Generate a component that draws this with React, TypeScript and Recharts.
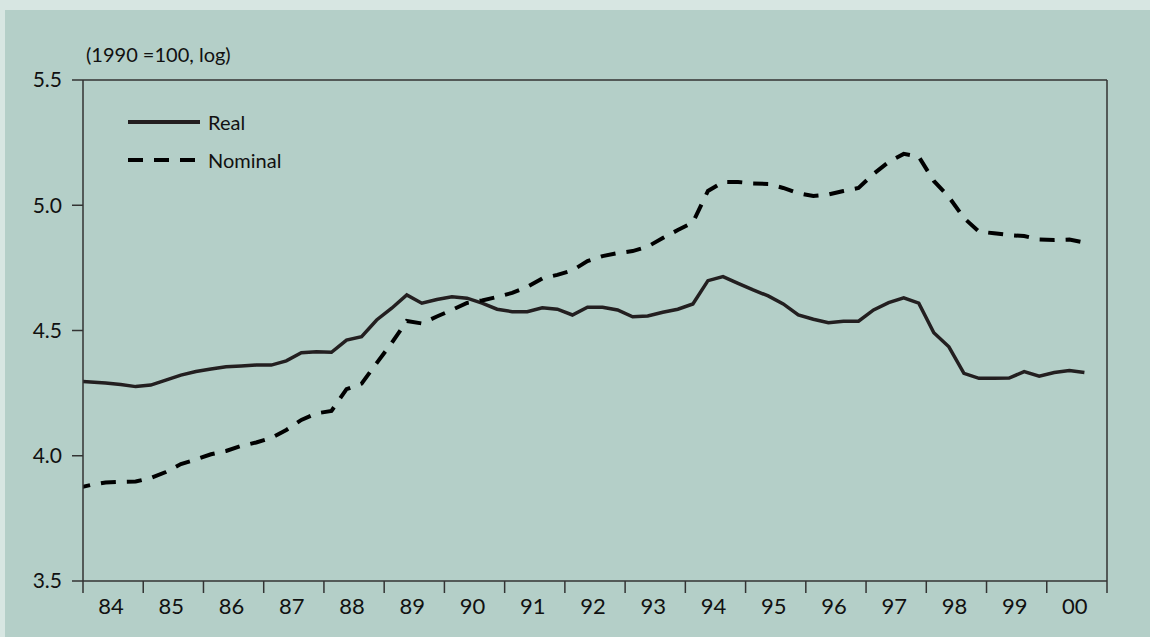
import React from "react";
import { Legend, Line, LineChart, ReferenceLine, XAxis, YAxis } from "recharts";

// quarterly observations, plotted at mid-quarter; first value is 1983 Q4 (clipped at the axis)
const FIRST_QUARTER = 1983.75;

const REAL = [
  4.298, 4.294, 4.29, 4.284, 4.276, 4.282, 4.302, 4.322, 4.336, 4.346, 4.355,
  4.358, 4.362, 4.362, 4.379, 4.411, 4.415, 4.413, 4.462, 4.475, 4.542, 4.589,
  4.642, 4.609, 4.624, 4.635, 4.629, 4.609, 4.585, 4.575, 4.575, 4.591, 4.585,
  4.562, 4.593, 4.593, 4.582, 4.555, 4.558, 4.573, 4.585, 4.606, 4.699, 4.715,
  4.688, 4.662, 4.638, 4.606, 4.562, 4.545, 4.531, 4.537, 4.537, 4.582, 4.611,
  4.63, 4.609, 4.491, 4.435, 4.329, 4.309, 4.309, 4.31, 4.336, 4.318, 4.332,
  4.34, 4.332,
];

const NOMINAL = [
  3.869, 3.883, 3.893, 3.896, 3.897, 3.911, 3.935, 3.967, 3.985, 4.006, 4.019,
  4.039, 4.053, 4.071, 4.103, 4.143, 4.169, 4.179, 4.266, 4.288, 4.37, 4.45,
  4.538, 4.528, 4.556, 4.582, 4.61, 4.62, 4.634, 4.65, 4.674, 4.708, 4.722,
  4.74, 4.777, 4.797, 4.809, 4.817, 4.835, 4.869, 4.901, 4.931, 5.057, 5.093,
  5.093, 5.087, 5.085, 5.069, 5.048, 5.037, 5.043, 5.057, 5.069, 5.125, 5.173,
  5.205, 5.194, 5.097, 5.033, 4.949, 4.895, 4.888, 4.881, 4.877, 4.863, 4.861,
  4.863, 4.851,
];

// year boundaries (tick marks) and year centres (labels)
const YEAR_TICKS = [
  1984, 1985, 1986, 1987, 1988, 1989, 1990, 1991, 1992, 1993, 1994, 1995, 1996,
  1997, 1998, 1999, 2000, 2001,
];
const LABEL_TICKS = [
  1984.5, 1985.5, 1986.5, 1987.5, 1988.5, 1989.5, 1990.5, 1991.5, 1992.5,
  1993.5, 1994.5, 1995.5, 1996.5, 1997.5, 1998.5, 1999.5, 2000.5,
];
const YEAR_LABELS = [
  "84", "85", "86", "87", "88", "89", "90", "91", "92", "93", "94", "95", "96",
  "97", "98", "99", "00",
];
const Y_TICKS = [3.5, 4.0, 4.5, 5.0, 5.5];
const LEGEND_ORDER = ["Real", "Nominal"];

const data = REAL.map((real, i) => ({
  t: FIRST_QUARTER + 0.125 + i * 0.25,
  real,
  nominal: NOMINAL[i],
}));

const FONT = "Lato, 'Open Sans', sans-serif";
const AXIS = "#333333";
const INK = "#231f20";

function YearTick(props: any) {
  const { x, y, payload } = props;
  const v = payload.value as number;
  if (Number.isInteger(v)) {
    return <line x1={x} y1={y} x2={x} y2={y + 12} stroke={AXIS} strokeWidth={1.5} />;
  }
  const idx = LABEL_TICKS.indexOf(v);
  return (
    <text
      x={x - 2}
      y={y + 17}
      dy="0.71em"
      textAnchor="middle"
      fontSize={22}
      fontFamily={FONT}
      fill="#111">
      {YEAR_LABELS[idx]}
    </text>
  );
}

function LegendBox({ payload }: any) {
  const items = [...(payload || [])].sort(
    (a: any, b: any) => LEGEND_ORDER.indexOf(a.value) - LEGEND_ORDER.indexOf(b.value)
  );
  return (
    <div style={{ fontFamily: FONT, fontSize: 20, color: "#111" }}>
      {items.map((entry: any) => (
        <div
          key={entry.value}
          style={{ display: "flex", alignItems: "center", height: 38 }}>
          <svg width={72} height={10} style={{ marginRight: 8 }}>
            <line
              x1={0}
              y1={5}
              x2={72}
              y2={5}
              stroke={entry.color}
              strokeWidth={4}
              strokeDasharray={entry.payload?.strokeDasharray}
            />
          </svg>
          <span>{entry.value}</span>
        </div>
      ))}
    </div>
  );
}

export default function App() {
  return (
    <div
      style={{
        position: "absolute",
        left: 0,
        top: 0,
        width: 1150,
        height: 637,
        background: "#d7e6e2",
        overflow: "hidden",
      }}>
      <div
        style={{
          position: "absolute",
          left: 5,
          top: 10,
          width: 1145,
          height: 627,
          background: "#b4cfc8",
        }}
      />
      <div
        style={{
          position: "absolute",
          left: 86,
          top: 42,
          fontFamily: FONT,
          fontSize: 20,
          lineHeight: "24px",
          color: "#111",
        }}>
        (1990 =100, log)
      </div>
      <LineChart
        width={1150}
        height={637}
        data={data}
        margin={{ top: 80, right: 43, bottom: 0, left: 0 }}
        style={{ position: "absolute", left: 0, top: 0 }}>
        <XAxis
          dataKey="t"
          type="number"
          domain={[1984, 2001]}
          allowDataOverflow
          ticks={[...YEAR_TICKS, ...LABEL_TICKS]}
          interval={0}
          height={56}
          tickSize={0}
          tickMargin={0}
          tickLine={false}
          axisLine={{ stroke: AXIS, strokeWidth: 1.5 }}
          tick={YearTick}
        />
        <YAxis
          type="number"
          domain={[3.5, 5.5]}
          allowDataOverflow
          ticks={Y_TICKS}
          interval={0}
          width={83}
          tickSize={11}
          tickMargin={10}
          tickLine={{ stroke: AXIS, strokeWidth: 1.5 }}
          axisLine={{ stroke: AXIS, strokeWidth: 1.5 }}
          tick={{ fontSize: 21, fill: "#111", fontFamily: FONT }}
          tickFormatter={(v: number) => v.toFixed(1)}
        />
        <ReferenceLine y={5.5} stroke={AXIS} strokeWidth={1.5} />
        <ReferenceLine x={2001} stroke={AXIS} strokeWidth={1.5} />
        <Legend
          layout="vertical"
          align="center"
          verticalAlign="middle"
          wrapperStyle={{ left: 128, top: 103, width: 200 }}
          content={<LegendBox />}
        />
        <Line
          type="linear"
          dataKey="real"
          name="Real"
          stroke={INK}
          strokeWidth={3.5}
          dot={false}
          activeDot={false}
          isAnimationActive={false}
        />
        <Line
          type="linear"
          dataKey="nominal"
          name="Nominal"
          stroke="#000"
          strokeWidth={4}
          strokeDasharray="15 11"
          dot={false}
          activeDot={false}
          isAnimationActive={false}
        />
      </LineChart>
    </div>
  );
}
